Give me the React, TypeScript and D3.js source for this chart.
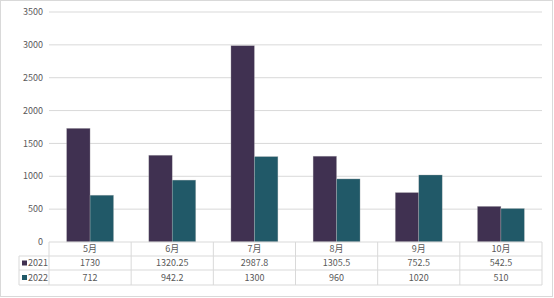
import React from "react";
import * as d3 from "d3";

const categories = ["5月", "6月", "7月", "8月", "9月", "10月"];
const seriesNames = ["2021", "2022"];
const values2021 = [1730, 1320.25, 2987.8, 1305.5, 752.5, 542.5];
const values2022 = [712, 942.2, 1300, 960, 1020, 510];
const labels2021 = ["1730", "1320.25", "2987.8", "1305.5", "752.5", "542.5"];
const labels2022 = ["712", "942.2", "1300", "960", "1020", "510"];
const yTicks = [0, 500, 1000, 1500, 2000, 2500, 3000, 3500];
const colors = ["#403151", "#215968"];

export default function App() {
  const W = 554, H = 298;
  const left = 49, right = 542, top = 12, bottom = 242;
  const y = d3.scaleLinear().domain([0, 3500]).range([bottom, top]);
  const x = d3.scaleBand().domain(categories).range([left, right]).paddingInner(0).paddingOuter(0);
  const inner = d3.scaleBand().domain(seriesNames).range([0, x.bandwidth()]).paddingInner(0).paddingOuter(0.75);
  const font = "'Microsoft YaHei', 'Noto Sans CJK SC', sans-serif";
  const series = [values2021, values2022];
  const rowLabels = [labels2021, labels2022];
  const rowTops = [242, 256, 270, 285];
  const grid = "#d9d9d9";
  return (
    <div style={{ position: "absolute", left: 0, top: 0 }}>
      <svg width={W} height={H} style={{ display: "block" }}>
        <rect x={0.5} y={0.5} width={552} height={296} fill="#fff" stroke="#d9d9d9" />
        {yTicks.map((t) => (
          <g key={t}>
            {t > 0 && <line x1={left} x2={right} y1={y(t)} y2={y(t)} stroke={grid} strokeWidth={1} />}
            <text x={43} y={y(t)} dy="0.35em" textAnchor="end" fontSize={9} fill="#595959" fontFamily={font}>{t}</text>
          </g>
        ))}
        {categories.map((c, i) => (
          <g key={c}>
            {seriesNames.map((s, j) => (
              <rect key={s} x={(x(c) as number) + (inner(s) as number)} y={y(series[j][i])}
                width={inner.bandwidth()} height={bottom - y(series[j][i])}
                fill={colors[j]} stroke="#bfbfbf" strokeOpacity={0.5} strokeWidth={0.6} />
            ))}
          </g>
        ))}
        {/* table */}
        <line x1={left} x2={right} y1={rowTops[0]} y2={rowTops[0]} stroke={grid} />
        {rowTops.slice(1).map((r) => (
          <line key={r} x1={19} x2={right} y1={r} y2={r} stroke={grid} />
        ))}
        <line x1={19} x2={19} y1={rowTops[1]} y2={rowTops[3]} stroke={grid} />
        {categories.map((c) => (
          <line key={c} x1={x(c)} x2={x(c)} y1={rowTops[0]} y2={rowTops[3]} stroke={grid} />
        ))}
        <line x1={right} x2={right} y1={rowTops[0]} y2={rowTops[3]} stroke={grid} />
        {categories.map((c) => (
          <text key={c} x={(x(c) as number) + x.bandwidth() / 2} y={(rowTops[0] + rowTops[1]) / 2} dy="0.35em"
            textAnchor="middle" fontSize={9} fill="#595959" fontFamily={font}>{c}</text>
        ))}
        {rowLabels.map((row, j) => (
          <g key={j}>
            <rect x={22} y={(rowTops[j + 1] + rowTops[j + 2]) / 2 - 2.5} width={5} height={5} fill={colors[j]} />
            <text x={28} y={(rowTops[j + 1] + rowTops[j + 2]) / 2} dy="0.35em" fontSize={9} fill="#595959" fontFamily={font}>{seriesNames[j]}</text>
            {row.map((v, i) => (
              <text key={i} x={(x(categories[i]) as number) + x.bandwidth() / 2} y={(rowTops[j + 1] + rowTops[j + 2]) / 2} dy="0.35em"
                textAnchor="middle" fontSize={9} fill="#595959" fontFamily={font}>{v}</text>
            ))}
          </g>
        ))}
      </svg>
    </div>
  );
}
